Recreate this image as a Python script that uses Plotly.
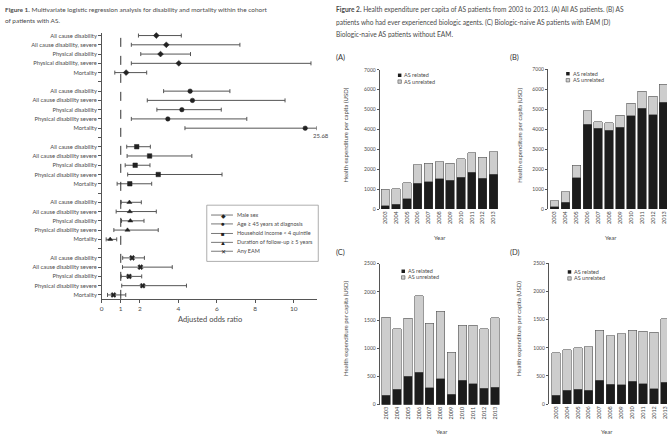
import plotly.graph_objects as go
import numpy as np

W, H = 668, 436
def fx(p): return p / W
def fy(p): return 1 - p / H

FONT = "Lato"
TXT = "#4a4a4a"
LINE = "#555555"

# ---------------- Figure 1 data ----------------
outcomes_first = ["All cause disability", "All cause disability, severe", "Physical disability",
                  "Physical disability, severe", "Mortality"]
outcomes_other = ["All cause disability", "All cause disability severe", "Physical disability",
                  "Physical disability severe", "Mortality"]
risk_factors = ["Male sex", "Age \u2265 45 years at diagnosis", "Household income < 4 quintile",
                "Duration of follow-up \u2265 5 years", "Any EAM"]
or_point = [
    [2.85, 3.37, 3.07, 4.02, 1.28],
    [4.61, 4.73, 4.18, 3.45, 10.6],
    [1.83, 2.50, 1.75, 2.95, 1.47],
    [1.45, 1.47, 1.50, 1.35, 0.45],
    [1.59, 2.02, 1.43, 2.14, 0.62],
]
or_low = [
    [1.92, 1.55, 2.04, 1.55, 0.69],
    [3.23, 2.38, 2.88, 1.55, 4.34],
    [1.31, 1.33, 1.23, 1.36, 0.81],
    [1.02, 0.76, 1.04, 0.64, 0.24],
    [1.10, 1.09, 1.02, 1.05, 0.31],
]
or_high = [
    [4.15, 7.20, 4.63, 10.9, 2.35],
    [6.68, 9.55, 6.23, 7.56, 25.68],
    [2.54, 4.70, 2.52, 6.27, 2.61],
    [2.07, 2.85, 2.21, 2.95, 0.79],
    [2.23, 3.68, 2.09, 4.42, 1.26],
]
or_ticks = [0, 1, 2, 4, 6, 8, 10]

# ---------------- Figure 2 data ----------------
years = [str(y) for y in range(2003, 2014)]
A_related = [180, 250, 530, 1290, 1370, 1520, 1440, 1600, 1850, 1550, 1750]
A_unrelated = [810, 770, 790, 940, 930, 860, 870, 940, 970, 1060, 1140]
B_related = [120, 350, 1570, 4260, 4040, 3950, 4100, 4670, 5050, 4730, 5350]
B_unrelated = [310, 510, 640, 670, 340, 380, 600, 630, 850, 920, 900]
C_related = [165, 270, 505, 575, 300, 460, 185, 435, 375, 290, 310]
C_unrelated = [1385, 1075, 1030, 1355, 1140, 1200, 745, 970, 1030, 1060, 1235]
D_related = [160, 245, 260, 245, 420, 355, 340, 405, 360, 275, 385]
D_unrelated = [755, 720, 745, 770, 890, 860, 910, 910, 935, 1000, 1130]

fig = go.Figure()

# ---------------- Forest plot ----------------
symbols = ["diamond", "circle", "square", "triangle-up", "x"]
XMAX = 11.2
rows_per_group = 6
tickvals, ticktext = [], []
for g in range(len(risk_factors)):
    labels = outcomes_first if g == 0 else outcomes_other
    for k, lab in enumerate(labels):
        tickvals.append(g * rows_per_group + k)
        ticktext.append(lab)
    if g < len(risk_factors) - 1:
        tickvals.append(g * rows_per_group + 5)
        ticktext.append("")

for g, rf in enumerate(risk_factors):
    pt = np.array(or_point[g])
    lo = np.array(or_low[g])
    hi = np.minimum(np.array(or_high[g]), XMAX)
    rows = [g * rows_per_group + k for k in range(len(pt))]
    fig.add_trace(go.Scatter(
        x=pt, y=rows, mode="markers", xaxis="x", yaxis="y", showlegend=False,
        marker=dict(symbol=symbols[g], size=4.5, color="#222",
                    line=dict(width=0.5, color="#222")),
        error_x=dict(type="data", symmetric=False, array=hi - pt, arrayminus=pt - lo,
                     color=LINE, thickness=1, width=2),
        cliponaxis=False,
    ))

ROW0, ROWSTEP = 33, 263 / 28
y_top_px, y_bot_px = 30, 300
yr_top = (y_top_px - ROW0) / ROWSTEP
yr_bot = (y_bot_px - ROW0) / ROWSTEP

layout = dict(
    xaxis=dict(domain=[fx(100), fx(100 + XMAX * 19.3)], range=[0, XMAX], anchor="y",
               tickvals=or_ticks, ticks="outside", ticklen=3, tickcolor=LINE,
               showline=True, linecolor=LINE, linewidth=1, showgrid=False, zeroline=False,
               tickfont=dict(size=6.5, color=TXT, family=FONT)),
    yaxis=dict(domain=[fy(y_bot_px), fy(y_top_px)], range=[yr_bot, yr_top], anchor="x",
               tickvals=tickvals, ticktext=ticktext, ticks="outside", ticklen=2.5, tickcolor=LINE,
               showline=True, linecolor=LINE, linewidth=1, showgrid=False, zeroline=False,
               tickfont=dict(size=5.8, color=TXT, family=FONT)),
)

shapes = [
    dict(type="line", xref="x", yref="paper", x0=1, x1=1, y0=fy(y_bot_px), y1=fy(y_top_px),
         line=dict(color="#333", width=1, dash="dash")),
    dict(type="rect", xref="paper", yref="paper", x0=fx(205.7), x1=fx(317.7), y0=fy(262), y1=fy(205),
         line=dict(color="#999", width=0.8)),
]
annotations = []

def ann(text, x, y, size, xanchor="left", yanchor="middle", angle=0, color=TXT):
    annotations.append(dict(text=text, x=fx(x), y=fy(y), xref="paper", yref="paper",
                            showarrow=False, xanchor=xanchor, yanchor=yanchor, textangle=angle,
                            font=dict(size=size, color=color, family=FONT)))

# legend of the forest plot
leg_glyph = ["\u25c6", "\u25cf", "\u25a0", "\u25b2", "\u2715"]
leg_y = [215, 224, 233.7, 242.7, 251.7]
for i, rf in enumerate(risk_factors):
    shapes.append(dict(type="line", xref="paper", yref="paper", x0=fx(210), x1=fx(232),
                       y0=fy(leg_y[i]), y1=fy(leg_y[i]), line=dict(color=LINE, width=0.8)))
    ann(leg_glyph[i], 222, leg_y[i], 6, xanchor="center", color="#222")
    ann(rf, 234, leg_y[i], 5.5)

ann("25.68", 320, 134, 6, xanchor="center")
ann("Adjusted odds ratio", 209, 321, 7.5, xanchor="center")

# captions
ann("<b>Figure 1.</b> Multivariate logistic regression analysis for disability and mortality within the cohort",
    1, 7, 6.45)
ann("of patients with AS.", 1, 17.5, 6.45)
ann("<b>Figure 2.</b> Health expenditure per capita of AS patients from 2003 to 2013. (A) All AS patients. (B) AS",
    333, 7, 6.6)
ann("patients who had ever experienced biologic agents. (C) Biologic-naive AS patients with EAM (D)",
    333, 19.5, 6.6)
ann("Biologic-naive AS patients without EAM.", 333, 31.5, 6.6)

# ---------------- Bar panels ----------------
panels = [
    dict(name="(A)", rel=A_related, unrel=A_unrelated, xd=(379.3, 499), xr=(-0.52, 10.5),
         yd=(209, 67.7), yr=(0, 7000), dt=1000, lab=(340, 55), yt=(345, 134), year=(440, 238),
         leg=(397.7, 73.3, 79.7)),
    dict(name="(B)", rel=B_related, unrel=B_unrelated, xd=(548.3, 668), xr=(-0.61, 10.3),
         yd=(209, 67.3), yr=(0, 7000), dt=1000, lab=(515, 55), yt=(519, 134), year=(612, 238),
         leg=(566.7, 71.7, 78.3)),
    dict(name="(C)", rel=C_related, unrel=C_unrelated, xd=(379.3, 500.6), xr=(-0.6, 10.5),
         yd=(407.3, 264.3), yr=(0, 2500), dt=500, lab=(340, 253), yt=(345, 330), year=(442, 434),
         leg=(401.3, 272, 278.3)),
    dict(name="(D)", rel=D_related, unrel=D_unrelated, xd=(549.3, 668), xr=(-0.66, 10.19),
         yd=(406.7, 264), yr=(0, 2500), dt=500, lab=(515, 253), yt=(519, 330), year=(608, 434),
         leg=(568.3, 272.7, 279.3)),
]
REL_C, UNREL_C = "#1c1c1c", "#cdcdcd"
for i, p in enumerate(panels):
    n = i + 2
    xa, ya = f"x{n}", f"y{n}"
    fig.add_trace(go.Bar(x=years, y=p["rel"], xaxis=xa, yaxis=ya, showlegend=False,
                         marker=dict(color=REL_C, line=dict(color="#333", width=0.6))))
    fig.add_trace(go.Bar(x=years, y=p["unrel"], xaxis=xa, yaxis=ya, showlegend=False,
                         marker=dict(color=UNREL_C, line=dict(color="#555", width=0.6))))
    layout[f"xaxis{n}"] = dict(domain=[fx(p["xd"][0]), fx(p["xd"][1])], range=list(p["xr"]),
                               anchor=ya, type="category", tickangle=-90, ticks="",
                               showline=False, showgrid=False, zeroline=False,
                               tickfont=dict(size=5.5, color=TXT, family=FONT))
    layout[f"yaxis{n}"] = dict(domain=[fy(p["yd"][0]), fy(p["yd"][1])], range=list(p["yr"]),
                               anchor=xa, dtick=p["dt"], ticks="outside", ticklen=2, tickcolor=LINE,
                               showline=True, linecolor=LINE, linewidth=0.8, showgrid=False,
                               zeroline=False, tickfont=dict(size=5, color=TXT, family=FONT))
    ann(p["name"], p["lab"][0], p["lab"][1], 7.5, xanchor="center", color="#333")
    ann("Health expenditure per capita (USD)", p["yt"][0], p["yt"][1], 6, xanchor="center", angle=-90)
    ann("Year", p["year"][0], p["year"][1], 6, xanchor="center")
    lx, ly1, ly2 = p["leg"]
    shapes.append(dict(type="rect", xref="paper", yref="paper", x0=fx(lx), x1=fx(lx + 3.5),
                       y0=fy(ly1 + 1.75), y1=fy(ly1 - 1.75), fillcolor=REL_C, line=dict(width=0)))
    shapes.append(dict(type="rect", xref="paper", yref="paper", x0=fx(lx), x1=fx(lx + 3.5),
                       y0=fy(ly2 + 1.75), y1=fy(ly2 - 1.75), fillcolor=UNREL_C,
                       line=dict(color="#555", width=0.6)))
    ann("AS related", lx + 4.5, ly1, 5.5)
    ann("AS unrelated", lx + 4.5, ly2, 5.5)

fig.update_layout(**layout)
fig.update_layout(width=W, height=H, margin=dict(l=0, r=0, t=0, b=0), autosize=False,
                  paper_bgcolor="white", plot_bgcolor="white", barmode="stack", bargap=0.22,
                  shapes=shapes, annotations=annotations, font=dict(family=FONT, color=TXT))
fig.write_html("out.html", config={"displayModeBar": False},
               post_script="document.body.style.margin='0';document.body.style.padding='0';"
                           "document.body.style.overflow='hidden';")
